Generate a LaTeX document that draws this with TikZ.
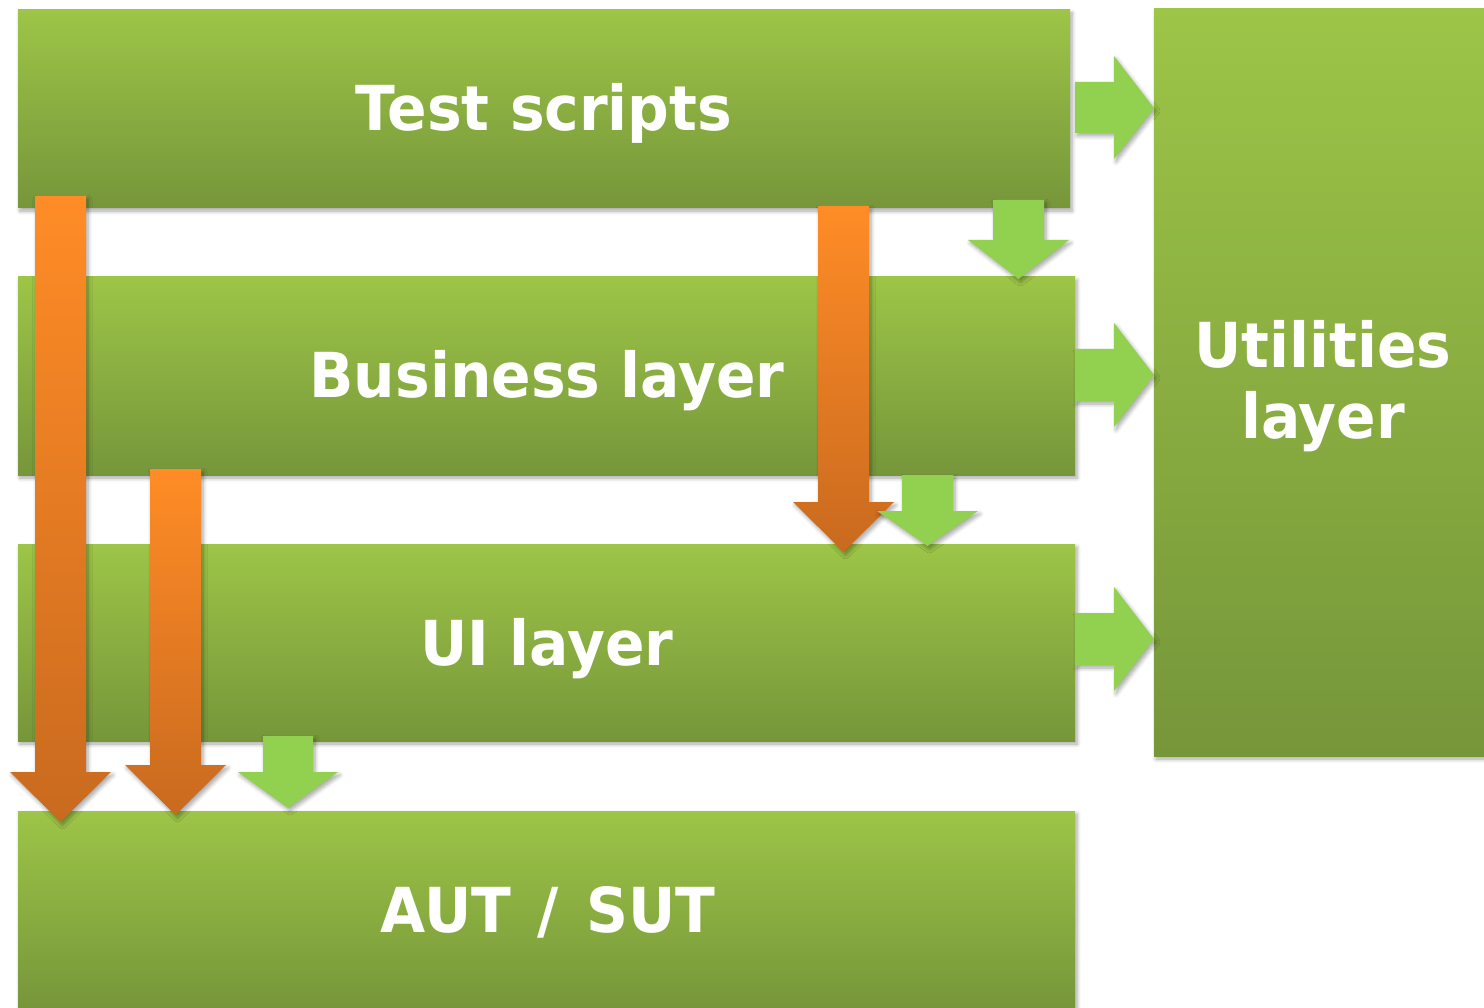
\documentclass[tikz,border=0pt]{standalone}
\usepackage{fontspec}
\setmainfont{DejaVu Sans}
\newfontfamily\lblfont[FakeStretch=0.94]{DejaVu Sans Bold}
\usetikzlibrary{shadows.blur}
\definecolor{glight}{HTML}{9DC547}
\definecolor{gdark}{HTML}{76963A}
\definecolor{garrow}{HTML}{92D050}
\definecolor{olight}{HTML}{FF8C26}
\definecolor{odark}{HTML}{C96A1F}
\begin{document}
\begin{tikzpicture}[x=1pt,y=-1pt,
  softshadow/.style={blur shadow={shadow xshift=2pt, shadow yshift=-3pt, shadow blur radius=4pt, shadow blur steps=6, shadow opacity=35}},
  layerbox/.style={rectangle, inner sep=0pt, outer sep=0pt, anchor=north west, top color=glight, bottom color=gdark, softshadow},
  lbl/.style={text=white, inner sep=0pt, font=\fontsize{62}{70}\lblfont},
  greenarrow/.style={fill=garrow, softshadow},
  orangearrow/.style={top color=olight, bottom color=odark, softshadow}
]
\useasboundingbox (0,0) rectangle (1484,1008);
% layer boxes
\node[layerbox, minimum width=1052pt, minimum height=198pt] (ts) at (18,10) {};
\node[layerbox, minimum width=1057pt, minimum height=198pt] (bl) at (18,277) {};
\node[layerbox, minimum width=1057pt, minimum height=197pt] (ui) at (18,544) {};
\node[layerbox, minimum width=1057pt, minimum height=198pt] (aut) at (18,811) {};
\node[layerbox, minimum width=338pt, minimum height=747pt] (ut) at (1154,9) {};
% right arrows to utilities
\path[greenarrow] (1075,82) -- (1114,82) -- (1114,56) -- (1154,108) -- (1114,159) -- (1114,133) -- (1075,133) -- cycle;
\path[greenarrow] (1075,349) -- (1114,349) -- (1114,323) -- (1154,375) -- (1114,427) -- (1114,401) -- (1075,401) -- cycle;
\path[greenarrow] (1075,613) -- (1114,613) -- (1114,587) -- (1154,639) -- (1114,691) -- (1114,665) -- (1075,665) -- cycle;
% orange arrows
\path[orangearrow] (35,196) -- (86,196) -- (86,772) -- (111,772) -- (60.5,822) -- (10,772) -- (35,772) -- cycle;
\path[orangearrow] (150,469) -- (201,469) -- (201,765) -- (226,765) -- (175.5,815) -- (125,765) -- (150,765) -- cycle;
\path[orangearrow] (818,206) -- (869,206) -- (869,502) -- (894,502) -- (843.5,552) -- (793,502) -- (818,502) -- cycle;
% green down arrows
\path[greenarrow] (993,200) -- (1044,200) -- (1044,240) -- (1069,240) -- (1018.5,279) -- (968,240) -- (993,240) -- cycle;
\path[greenarrow] (902,475) -- (953,475) -- (953,511) -- (978,511) -- (927.5,546) -- (877,511) -- (902,511) -- cycle;
\path[greenarrow] (263,736) -- (313,736) -- (313,772) -- (338,772) -- (288,808) -- (238,772) -- (263,772) -- cycle;
% labels
\node[lbl, anchor=base] (tsl) at (544,131) {Test scripts};
\node[lbl, anchor=base] (bll) at (547,398) {Business layer};
\node[lbl, anchor=base] (uil) at (547,665) {UI layer};
\node[lbl, anchor=base] (autl) at (548,932) {AUT\hspace{27pt}/\hspace{27pt}SUT};
\node[lbl, anchor=base] (utl1) at (1323,368) {Utilities};
\node[lbl, anchor=base] (utl2) at (1323,438) {layer};
\end{tikzpicture}
\end{document}
